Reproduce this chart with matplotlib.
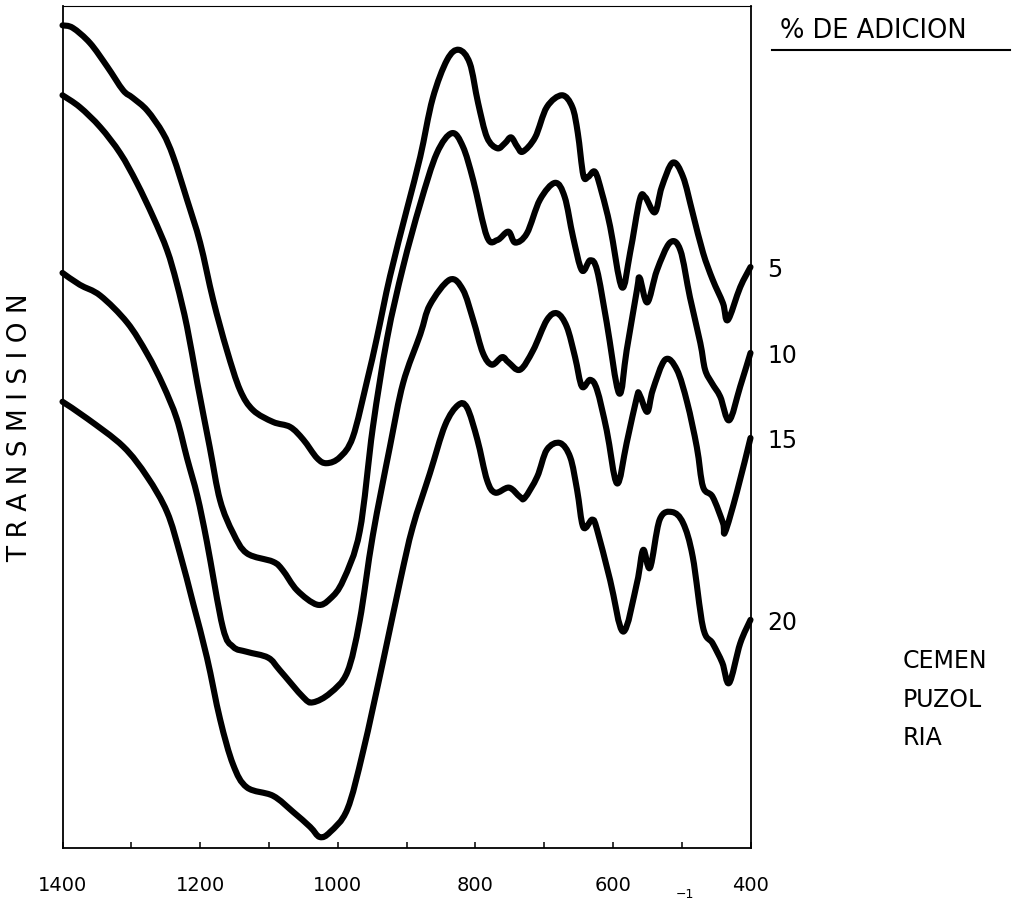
import matplotlib
matplotlib.use("Agg")
import numpy as np
import matplotlib.pyplot as plt
from matplotlib.path import Path
from matplotlib.patches import PathPatch
from matplotlib.ticker import MultipleLocator, FixedLocator

# IR spectra, wavenumber (cm-1) vs transmission (arbitrary units)
wn_5 = [1400, 1385, 1360, 1335, 1312, 1298, 1277, 1254, 1239, 1219, 1200, 1181,
        1161, 1142, 1123, 1094, 1069, 1050, 1030, 1016, 997, 978, 957, 943, 924,
        899, 880, 862, 841, 824, 808, 796, 783, 768, 757, 748, 739, 731, 713, 696,
        674, 659, 651, 643, 636, 626, 616, 604, 587, 575, 561, 553, 539, 529, 513,
        498, 484, 469, 455, 440, 433, 415, 400]
t_5 = [97.7, 97.4, 95.6, 92.8, 90.0, 89.1, 87.6, 84.9, 82.1, 77.0, 71.9, 65.1,
       59.1, 54.4, 52.0, 50.6, 50.0, 48.5, 46.3, 45.7, 46.4, 48.8, 55.6, 60.6, 67.9,
       76.0, 82.1, 89.0, 93.6, 94.8, 93.2, 88.5, 84.4, 83.1, 83.7, 84.4, 83.3, 82.7,
       84.4, 88.0, 89.4, 88.0, 84.9, 79.9, 79.7, 80.3, 77.8, 73.8, 66.6, 70.7, 77.0,
       77.3, 75.5, 78.5, 81.4, 79.7, 75.4, 70.7, 67.5, 64.7, 62.7, 66.6, 69.0]

wn_10 = [1400, 1375, 1345, 1316, 1292, 1268, 1248, 1234, 1219, 1204, 1186, 1171,
         1152, 1132, 1094, 1080, 1059, 1030, 1011, 992, 968, 949, 928, 905, 880,
         856, 834, 818, 803, 783, 768, 752, 742, 725, 706, 684, 670, 658, 645, 633,
         623, 609, 591, 580, 565, 561, 550, 536, 517, 502, 488, 473, 466, 456, 444,
         431, 415, 400]
t_10 = [89.4, 88.0, 85.6, 82.5, 79.0, 74.9, 71.0, 67.1, 61.9, 55.2, 47.6, 41.3,
        37.4, 35.0, 34.0, 33.0, 30.6, 28.9, 29.6, 31.8, 37.6, 49.9, 60.6, 69.0, 76.5,
        82.5, 84.9, 83.3, 79.3, 72.6, 72.2, 73.2, 71.9, 73.0, 77.0, 79.0, 77.3, 72.6,
        68.6, 69.8, 68.6, 62.4, 54.0, 59.1, 66.3, 67.7, 64.8, 68.6, 71.9, 71.0, 65.4,
        60.0, 56.8, 55.2, 53.6, 50.8, 54.8, 58.8]

wn_15 = [1400, 1375, 1345, 1306, 1277, 1254, 1234, 1219, 1204, 1190, 1167, 1152,
         1132, 1101, 1084, 1050, 1036, 1011, 986, 968, 949, 924, 905, 880, 866, 837,
         818, 803, 789, 776, 761, 752, 735, 716, 696, 681, 667, 655, 645, 633, 623,
         609, 594, 580, 565, 561, 550, 542, 524, 507, 492, 478, 469, 455, 440, 437,
         420, 400]
t_15 = [68.3, 66.9, 65.6, 62.4, 58.7, 55.0, 51.0, 46.3, 41.8, 36.3, 26.2, 23.9,
        23.3, 22.6, 21.1, 17.9, 17.3, 18.4, 20.9, 27.0, 37.1, 47.7, 55.2, 61.0, 64.5,
        67.5, 66.3, 62.7, 58.8, 57.4, 58.3, 57.7, 56.8, 59.1, 62.7, 63.5, 61.9, 58.3,
        54.8, 55.6, 54.4, 49.6, 43.3, 48.1, 53.6, 53.8, 51.8, 54.4, 58.0, 56.8, 52.9,
        47.6, 42.9, 41.7, 38.6, 37.5, 42.2, 48.7]

wn_20 = [1400, 1364, 1312, 1277, 1248, 1229, 1210, 1190, 1171, 1152, 1132, 1094,
         1065, 1040, 1026, 1011, 986, 963, 934, 909, 891, 866, 844, 825, 812, 797,
         783, 771, 751, 735, 728, 710, 696, 677, 662, 652, 643, 630, 623, 604, 585,
         565, 556, 546, 532, 514, 498, 484, 469, 455, 441, 431, 415, 400]
t_20 = [53.0, 51.0, 47.7, 44.1, 39.9, 34.9, 29.0, 22.6, 15.3, 9.9, 7.2, 6.2,
        4.3, 2.5, 1.3, 1.9, 4.6, 11.5, 22.2, 31.8, 38.1, 44.5, 50.2, 52.6, 52.3, 48.5,
        43.7, 42.2, 42.8, 41.7, 41.6, 44.1, 47.3, 48.1, 46.4, 42.5, 38.1, 39.0, 37.8,
        31.8, 25.7, 31.5, 35.4, 33.3, 39.0, 39.9, 38.6, 34.6, 26.2, 24.3, 22.0, 19.6,
        24.3, 27.1]

additions = ["5", "10", "15", "20"]
spectra = [(wn_5, t_5), (wn_10, t_10), (wn_15, t_15), (wn_20, t_20)]

x_ticks_major = [1400, 1200, 1000, 800, 600, 400]
x_tick_labels = ["1400", "1200", "1000", "800", "600", "400"]


def smooth_path(xs, ys):
    """Cubic Bezier path passing through every point (Catmull-Rom tangents)."""
    p = np.column_stack([xs, ys]).astype(float)
    ext = np.vstack([p[0], p, p[-1]])
    verts = [p[0]]
    codes = [Path.MOVETO]
    for i in range(len(p) - 1):
        p0, p1, p2, p3 = ext[i], ext[i + 1], ext[i + 2], ext[i + 3]
        c1 = p1 + (p2 - p0) / 6.0
        c2 = p2 - (p3 - p1) / 6.0
        verts += [c1, c2, p2]
        codes += [Path.CURVE4] * 3
    return Path(verts, codes)


W, H, DPI = 1016, 911, 100
fig = plt.figure(figsize=(W / DPI, H / DPI), dpi=DPI)
fig.patch.set_facecolor("white")

left, right, bottom, top = 62.5, 750.5, 848, 6
ax = fig.add_axes([left / W, 1 - bottom / H, (right - left) / W, (bottom - top) / H])

for (wn, t) in spectra:
    ax.add_patch(PathPatch(smooth_path(wn, t), facecolor="none", edgecolor="black",
                           lw=4.4, joinstyle="round", capstyle="round",
                           transform=ax.transData, clip_on=False))

ax.set_xlim(1400, 400)
ax.set_ylim(0, 100)

for side in ["left", "right", "bottom"]:
    ax.spines[side].set_linewidth(1.3)
ax.spines["top"].set_linewidth(0.8)

ax.xaxis.set_major_locator(FixedLocator(x_ticks_major))
ax.set_xticklabels(x_tick_labels)
ax.xaxis.set_minor_locator(MultipleLocator(100))
ax.tick_params(axis="x", which="both", direction="in", length=4.5, width=1.1,
               pad=20, labelsize=14)
ax.set_yticks([])

# curve labels at the right end of each spectrum
for lab, (wn, t) in zip(additions, spectra):
    ax.annotate(lab, xy=(wn[-1], t[-1]), xytext=(12, -2), textcoords="offset points",
                ha="left", va="center", fontsize=17, annotation_clip=False)


def px(x, y):
    return x / W, 1 - y / H


fig.text(*px(780, 31), "% DE ADICION", fontsize=18.5, ha="left", va="center")
fig.add_artist(plt.Line2D([772 / W, 1010 / W], [1 - 50 / H, 1 - 50 / H],
                          color="black", lw=1.5))

fig.text(*px(20, 428), "T R A N S M I S I O N", fontsize=19, rotation=90,
         ha="center", va="center")

fig.text(*px(903, 661), "CEMEN", fontsize=17, ha="left", va="center")
fig.text(*px(903, 700), "PUZOL", fontsize=17, ha="left", va="center")
fig.text(*px(903, 738), "RIA", fontsize=17, ha="left", va="center")

fig.text(*px(676, 894), "−1", fontsize=9, ha="left", va="center")

fig.savefig("out.png", dpi=DPI, facecolor="white")
